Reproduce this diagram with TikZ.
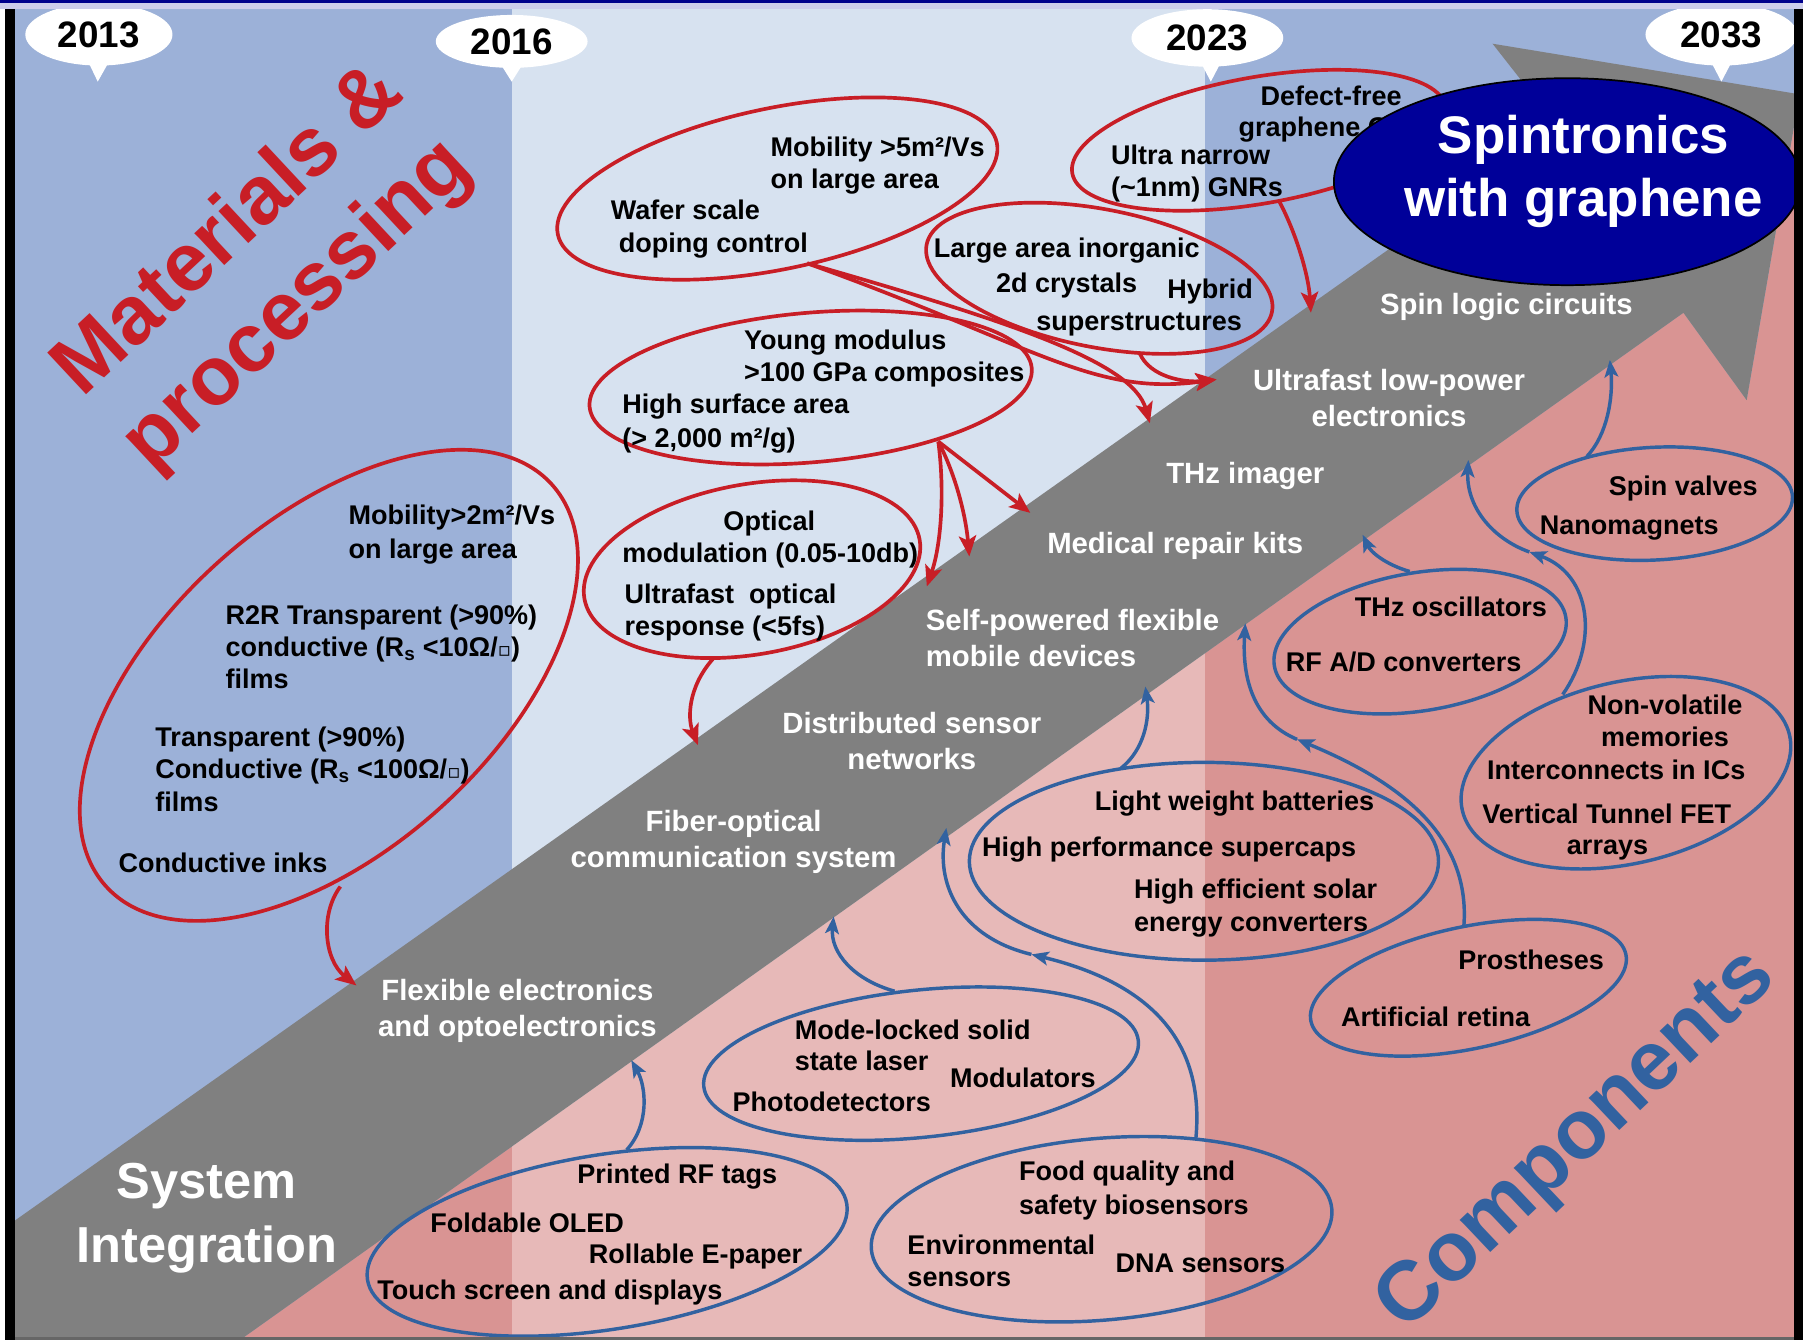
\documentclass[tikz,border=0pt]{standalone}
\usepackage{fontspec}
\setmainfont{Liberation Sans}
\newfontfamily\dvs{DejaVu Sans}
\usetikzlibrary{arrows.meta,shapes.geometric}
\definecolor{mblue}{RGB}{156,177,216}
\definecolor{lblue}{RGB}{215,226,240}
\definecolor{dpink}{RGB}{217,148,147}
\definecolor{lpink}{RGB}{231,185,184}
\definecolor{bandgray}{RGB}{128,128,128}
\definecolor{rline}{RGB}{200,30,38}
\definecolor{bline}{RGB}{50,98,160}
\definecolor{navy}{RGB}{0,0,153}
\definecolor{topbar}{RGB}{0,0,140}
\definecolor{lilac}{RGB}{205,205,235}
\newcommand{\ohmsq}{{\dvs\fontsize{17}{17}\selectfont ▫}}
\begin{document}
\begin{tikzpicture}[x=1pt,y=-1pt,
  rell/.style={draw=rline, line width=3.2pt, ellipse, inner sep=0pt, outer sep=0pt},
  bell/.style={draw=bline, line width=3pt, ellipse, inner sep=0pt, outer sep=0pt},
  lab/.style={font=\fontsize{23.5}{28}\selectfont\bfseries, text=black, inner sep=0pt, text height=23pt, text depth=5pt, anchor=west},
  labc/.style={lab, anchor=center},
  wlab/.style={font=\fontsize{25.5}{31}\selectfont\bfseries, text=white, inner sep=0pt, text height=24.4pt, text depth=5.4pt, anchor=center},
  wlabl/.style={wlab, anchor=west},
  biglab/.style={font=\fontsize{44}{55}\selectfont\bfseries, text=white, inner sep=0pt, text height=40.4pt, text depth=9.2pt, anchor=center},
  spinlab/.style={font=\fontsize{46}{55}\selectfont\bfseries, text=white, inner sep=0pt, text height=42pt, text depth=9.7pt, anchor=center},
  yearnode/.style={ellipse, fill=white, inner sep=0pt, font=\fontsize{32}{36}\selectfont\bfseries},
  rarr/.style={draw=rline, line width=3.2pt, -{Stealth[length=18pt,width=15pt,inset=4pt]}},
  barr/.style={draw=bline, line width=3pt, -{Stealth[length=15pt,width=12pt,inset=3.5pt]}},
]
\useasboundingbox (0,0) rectangle (1568,1165);
% frame
\fill[white] (0,0) rectangle (1568,1165);
\fill[topbar] (0,0) rectangle (1568,3);
\fill[lilac] (0,3) rectangle (1568,8);

\begin{scope}
\clip (13,8) rectangle (1560,1163);
\fill[mblue] (13,8) rectangle (445,1163);
\fill[lblue] (445,8) rectangle (1048,1163);
\fill[mblue] (1048,8) rectangle (1560,1163);
\begin{scope}
\clip (212,1163) -- (1464,272) -- (1519,348) -- (1565,82) -- (1600,82) -- (1600,1200) -- (212,1200) -- cycle;
\fill[dpink] (0,0) rectangle (445,1200);
\fill[lpink] (445,0) rectangle (1048,1200);
\fill[dpink] (1048,0) rectangle (1600,1200);
\end{scope}
% gray band arrow
\fill[bandgray] (-200,1212) -- (1356,112) -- (1298,38) -- (1565,82) -- (1519,348) -- (1464,272) -- (212,1163) -- (212,1200) -- (-200,1200) -- cycle;

% year bubbles
\fill[white] (74,48) -- (98,48) -- (85,71) -- cycle;
\node[yearnode, minimum width=128pt, minimum height=54pt] (y13) at (86,30) {2013};
\fill[white] (433,52) -- (457,52) -- (445,71) -- cycle;
\node[yearnode, minimum width=132pt, minimum height=46pt] (y16) at (445,36) {2016};
\fill[white] (1041,48) -- (1065,48) -- (1053,71) -- cycle;
\node[yearnode, minimum width=132pt, minimum height=50pt] (y23) at (1050,33) {2023};
\fill[white] (1485,48) -- (1509,48) -- (1497,71) -- cycle;
\node[yearnode, minimum width=132pt, minimum height=54pt] (y33) at (1497,30) {2033};

% big titles
\node[rotate=43, text=rline, font=\fontsize{72}{88}\selectfont\bfseries, align=center, inner sep=0pt] (mat) at (230,234) {Materials \&\\processing};
\node[rotate=43.4, text=bline, font=\fontsize{73}{90}\selectfont\bfseries, inner sep=0pt] (comp) at (1372,993) {Components};
\node[biglab] (sys1) at (180,1027) {System};
\node[biglab] (sys2) at (180,1082) {Integration};

% white labels in band
\node[wlab] (w1) at (1310,264) {Spin logic circuits};
\node[wlab] (w2) at (1208,330) {Ultrafast low-power};
\node[wlab] (w3) at (1208,361) {electronics};
\node[wlab] (w4) at (1083,411) {THz imager};
\node[wlab] (w5) at (1022,472) {Medical repair kits};
\node[wlabl] (w6) at (805,539) {Self-powered flexible};
\node[wlabl] (w7) at (805,570) {mobile devices};
\node[wlab] (w8) at (793,628) {Distributed sensor};
\node[wlab] (w9) at (793,660) {networks};
\node[wlab] (w10) at (638,714) {Fiber-optical};
\node[wlab] (w11) at (638,745) {communication system};
\node[wlab] (w12) at (450,861) {Flexible electronics};
\node[wlab] (w13) at (450,892) {and optoelectronics};

% red ellipses
\node[rell, minimum width=390pt, minimum height=140pt, rotate=11.8] (R1) at (676,164) {};
\node[rell, minimum width=386pt, minimum height=130pt, rotate=5] (R2) at (705,337) {};
\node[rell, minimum width=296pt, minimum height=148pt, rotate=10] (R3) at (654,495) {};
\node[rell, minimum width=522pt, minimum height=288pt, rotate=42] (R4) at (286,596) {};
\node[rell, minimum width=306pt, minimum height=120pt, rotate=-11] (R5) at (956,242) {};
\node[rell, minimum width=330pt, minimum height=110pt, rotate=10] (R6) at (1095,122) {};

% red labels
\node[lab] (r1a) at (670,127) {Mobility >5m²/Vs};
\node[lab] (r1b) at (670,155) {on large area};
\node[lab] (r1c) at (531,182) {Wafer scale};
\node[lab] (r1d) at (538,211) {doping control};
\node[lab] (r2a) at (647,295) {Young modulus};
\node[lab] (r2b) at (647,323) {>100 GPa composites};
\node[lab] (r2c) at (541,351) {High surface area};
\node[lab] (r2d) at (541,380) {(> 2,000 m²/g)};
\node[labc] (r3a) at (669,452) {Optical};
\node[lab] (r3b) at (541,480) {modulation (0.05-10db)};
\node[lab] (r3c) at (543,516) {Ultrafast\ \ optical};
\node[lab] (r3d) at (543,544) {response (<5fs)};
\node[lab] (r4a) at (303,447) {Mobility>2m²/Vs};
\node[lab] (r4b) at (303,477) {on large area};
\node[lab] (r4c) at (196,534) {R2R Transparent (>90\%)};
\node[lab] (r4d) at (196,562) {conductive (R\textsubscript{s} <10Ω/\ohmsq)};
\node[lab] (r4e) at (196,590) {films};
\node[lab] (r4f) at (135,640) {Transparent (>90\%)};
\node[lab] (r4g) at (135,668) {Conductive (R\textsubscript{s} <100Ω/\ohmsq)};
\node[lab] (r4h) at (135,697) {films};
\node[lab] (r4i) at (103,750) {Conductive inks};
\node[lab] (r5a) at (812,215) {Large area inorganic};
\node[lab] (r5b) at (866,245) {2d crystals};
\node[lab] (r5c) at (1015,251) {Hybrid};
\node[lab] (r5d) at (901,278) {superstructures};
\node[lab] (r6a) at (1096,83) {Defect-free};
\node[lab] (r6b) at (1077,110) {graphene C};
\node[lab] (r6c) at (966,134) {Ultra narrow};
\node[lab] (r6d) at (966,162) {(\textasciitilde1nm) GNRs};

% blue ellipses
\node[bell, minimum width=422pt, minimum height=152pt, rotate=9] (B1) at (528,1080) {};
\node[bell, minimum width=380pt, minimum height=128pt, rotate=6] (B2) at (801,925) {};
\node[bell, minimum width=402pt, minimum height=158pt, rotate=5] (B3) at (958,1069) {};
\node[bell, minimum width=408pt, minimum height=172pt] (B4) at (1047,749) {};
\node[bell, minimum width=257pt, minimum height=120pt, rotate=9.5] (B5) at (1235,558) {};
\node[bell, minimum width=240pt, minimum height=98pt, rotate=3] (B6) at (1439,438) {};
\node[bell, minimum width=292pt, minimum height=158pt, rotate=13] (B7) at (1414,672) {};
\node[bell, minimum width=280pt, minimum height=106pt, rotate=12] (B8) at (1277,859) {};

% blue labels
\node[lab] (b1a) at (502,1020) {Printed RF tags};
\node[lab] (b1b) at (374,1063) {Foldable OLED};
\node[lab] (b1c) at (512,1090) {Rollable E-paper};
\node[lab] (b1d) at (328,1121) {Touch screen and displays};
\node[lab] (b2a) at (691,895) {Mode-locked solid};
\node[lab] (b2b) at (691,922) {state laser};
\node[lab] (b2c) at (826,937) {Modulators};
\node[lab] (b2d) at (637,958) {Photodetectors};
\node[lab] (b3a) at (886,1018) {Food quality and};
\node[lab] (b3b) at (886,1047) {safety biosensors};
\node[lab] (b3c) at (789,1082) {Environmental};
\node[lab] (b3d) at (789,1110) {sensors};
\node[lab] (b3e) at (970,1098) {DNA sensors};
\node[lab] (b4a) at (952,696) {Light weight batteries};
\node[lab] (b4b) at (854,736) {High performance supercaps};
\node[lab] (b4c) at (986,772) {High efficient solar};
\node[lab] (b4d) at (986,801) {energy converters};
\node[lab] (b5a) at (1178,527) {THz oscillators};
\node[lab] (b5b) at (1118,575) {RF A/D converters};
\node[lab] (b6a) at (1399,422) {Spin valves};
\node[lab] (b6b) at (1339,456) {Nanomagnets};
\node[labc] (b7a) at (1448,612) {Non-volatile};
\node[labc] (b7b) at (1448,640) {memories};
\node[lab] (b7c) at (1293,669) {Interconnects in ICs};
\node[lab] (b7d) at (1289,707) {Vertical Tunnel FET};
\node[labc] (b7e) at (1398,734) {arrays};
\node[lab] (b8a) at (1268,834) {Prostheses};
\node[lab] (b8b) at (1166,884) {Artificial retina};

% red arrows
\coordinate (a1s) at (296,771); \coordinate (a1t) at (310,857);
\draw[rarr] (a1s) .. controls (278,795) and (282,835) .. (a1t);
\coordinate (a2s) at (620,573); \coordinate (a2t) at (607,648);
\draw[rarr] (a2s) .. controls (598,598) and (598,625) .. (a2t);
\coordinate (a3s) at (816,384);
\coordinate (a3t1) at (896,446); \draw[rarr] (a3s) -- (a3t1);
\coordinate (a3t2) at (843,484); \draw[rarr] (a3s) .. controls (832,415) and (840,450) .. (a3t2);
\coordinate (a3t3) at (806,510); \draw[rarr] (a3s) .. controls (822,430) and (818,475) .. (a3t3);
\coordinate (a4s) at (702,229);
\coordinate (a4t) at (1000,368); \draw[rarr] (a4s) .. controls (880,280) and (985,315) .. (a4t);
\coordinate (a5t) at (1058,330); \draw[rarr] (a4s) .. controls (900,300) and (950,345) .. (a5t);
\coordinate (a6s) at (991,307); \draw[rarr] (a6s) .. controls (1000,328) and (1030,333) .. (a5t);
\coordinate (a7s) at (1113,176); \coordinate (a7t) at (1140,272);
\draw[rarr] (a7s) .. controls (1128,205) and (1138,240) .. (a7t);

% blue arrows
\coordinate (b1s) at (545,1000); \coordinate (b1t) at (549,922);
\draw[barr] (b1s) .. controls (565,978) and (562,945) .. (b1t);
\coordinate (b2s) at (778,862); \coordinate (b2t) at (725,797);
\draw[barr] (b2s) .. controls (742,852) and (722,828) .. (b2t);
\coordinate (b3s) at (1040,990); \coordinate (b3m) at (897,830); \coordinate (b3t) at (823,720);
\draw[barr] (b3s) .. controls (1048,905) and (1000,855) .. (b3m);
\draw[barr] (b3m) .. controls (835,815) and (815,770) .. (b3t);
\coordinate (b4s) at (975,668); \coordinate (b4t) at (996,597);
\draw[barr] (b4s) .. controls (995,652) and (1000,625) .. (b4t);
\coordinate (b8s) at (1273,806); \coordinate (b8m) at (1128,643); \coordinate (b8t) at (1083,542);
\draw[barr] (b8s) .. controls (1280,720) and (1205,675) .. (b8m);
\draw[barr] (b8m) .. controls (1090,627) and (1080,590) .. (b8t);
\coordinate (b5s) at (1226,497); \coordinate (b5t) at (1185,465);
\draw[barr] (b5s) .. controls (1205,491) and (1192,480) .. (b5t);
\coordinate (b7s) at (1359,604); \coordinate (b7m) at (1330,480); \coordinate (b7t) at (1277,400);
\draw[barr] (b7s) .. controls (1390,560) and (1385,500) .. (b7m);
\draw[barr] (b7m) .. controls (1297,468) and (1275,440) .. (b7t);
\coordinate (b6s) at (1380,397); \coordinate (b6t) at (1400,313);
\draw[barr] (b6s) .. controls (1398,378) and (1403,345) .. (b6t);

% spintronics
\node[ellipse, fill=navy, draw=black, line width=1.5pt, minimum width=406pt, minimum height=180pt, inner sep=0pt] (spin) at (1363,158) {};
\node[spinlab] (spin1) at (1377,117) {Spintronics};
\node[spinlab] (spin2) at (1377,172) {with graphene};
\end{scope}

% borders
\fill[black] (4,8) rectangle (13,1165);
\fill[black] (1560,8) rectangle (1568,1165);
\fill[black!60] (13,1163) rectangle (1560,1165);
\end{tikzpicture}
\end{document}
